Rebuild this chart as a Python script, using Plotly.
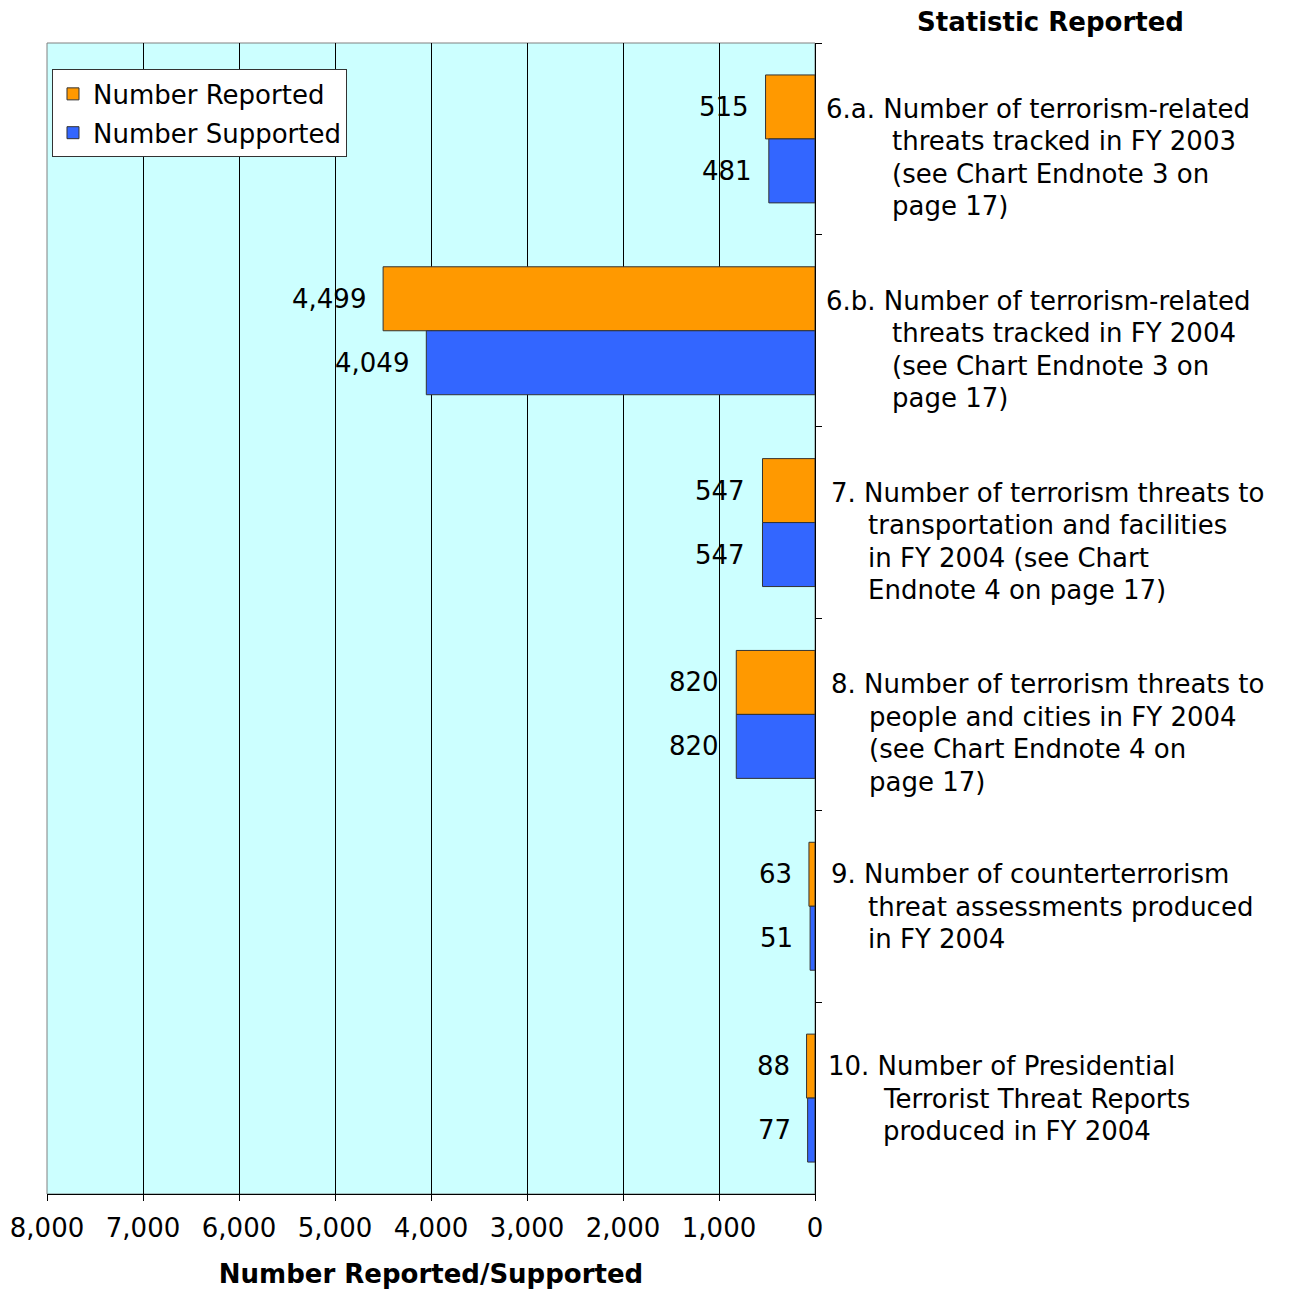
import plotly.graph_objects as go

categories = ["6.a", "6.b", "7", "8", "9", "10"]
reported = [515, 4499, 547, 820, 63, 88]
supported = [481, 4049, 547, 820, 51, 77]
label_lines = [
    ["6.a. Number of terrorism-related", "threats tracked in FY 2003", "(see Chart Endnote 3 on", "page 17)"],
    ["6.b. Number of terrorism-related", "threats tracked in FY 2004", "(see Chart Endnote 3 on", "page 17)"],
    ["7. Number of terrorism threats to", "transportation and facilities", "in FY 2004 (see Chart", "Endnote 4 on page 17)"],
    ["8. Number of terrorism threats to", "people and cities in FY 2004", "(see Chart Endnote 4 on", "page 17)"],
    ["9. Number of counterterrorism", "threat assessments produced", "in FY 2004"],
    ["10. Number of Presidential", "Terrorist Threat Reports", "produced in FY 2004"],
]
# pixel indents of first line / continuation lines from plot right edge
first_indent = [9, 9, 14, 14, 14, 11]
cont_indent = [75, 75, 51, 52, 51, 66]

FONT = "DejaVu Sans"
FS = 26

fig = go.Figure()
fig.add_trace(go.Bar(y=categories, x=reported, orientation="h", name="Number Reported",
                     legendgroup="r",
                     marker=dict(color="#FF9900", line=dict(color="#333333", width=1))))
fig.add_trace(go.Bar(y=categories, x=supported, orientation="h", name="Number Supported",
                     legendgroup="s",
                     marker=dict(color="#3366FF", line=dict(color="#333333", width=1))))

# value labels left of bar ends (axis is reversed)
for i, (r, s) in enumerate(zip(reported, supported)):
    for val, off in ((r, -1 / 6), (s, 1 / 6)):
        fig.add_annotation(x=val, y=i + off, xanchor="right", xshift=-15,
                           text=f"{val:,}", showarrow=False,
                           font=dict(family=FONT, size=FS, color="black"))

# category labels on the right
for i, (lines, fi, ci) in enumerate(zip(label_lines, first_indent, cont_indent)):
    start = -30 if len(lines) == 4 else -32
    for j, line in enumerate(lines):
        fig.add_annotation(xref="paper", x=1, y=i, xanchor="left",
                           xshift=fi if j == 0 else ci,
                           yshift=-(start + 32.5 * j),
                           text=line, showarrow=False,
                           font=dict(family=FONT, size=FS, color="black"))

fig.add_annotation(xref="paper", yref="paper", x=1.306, y=1.0, yshift=21,
                   xanchor="center", yanchor="middle",
                   text="<b>Statistic Reported</b>", showarrow=False,
                   font=dict(family=FONT, size=FS, color="black"))

fig.add_shape(type="rect", xref="paper", yref="paper", x0=0, x1=1, y0=0, y1=1,
              line=dict(color="#808080", width=1), layer="below")

fig.update_layout(
    width=1290, height=1281,
    margin=dict(l=39, r=483, t=35, b=95),
    paper_bgcolor="white", plot_bgcolor="#CCFFFF",
    barmode="group", bargap=0.333, bargroupgap=0,
    font=dict(family=FONT, size=FS, color="black"),
    showlegend=True,
    legend=dict(x=0.0065, y=0.977, xanchor="left", yanchor="top",
                bgcolor="white", bordercolor="#333333", borderwidth=1,
                tracegroupgap=2,
                font=dict(family=FONT, size=FS)),
    xaxis=dict(range=[8000, 0], dtick=1000, tickformat=",d",
               showgrid=True, gridcolor="black", gridwidth=1,
               showline=True, linecolor="black", linewidth=1,
               ticks="outside", ticklen=6, tickcolor="black",
               ticklabelstandoff=5,
               zeroline=False, automargin=False,
               title=dict(text="<b>Number Reported/Supported</b>", standoff=26,
                          font=dict(family=FONT, size=FS)),
               tickfont=dict(family=FONT, size=FS)),
    yaxis=dict(type="category", range=[5.5, -0.5], side="right", showticklabels=False,
               showline=True, linecolor="black", linewidth=1,
               ticks="outside", ticklen=6, tickcolor="black",
               tickson="boundaries", showgrid=False, automargin=False),
)

fig.write_html("out.html")
